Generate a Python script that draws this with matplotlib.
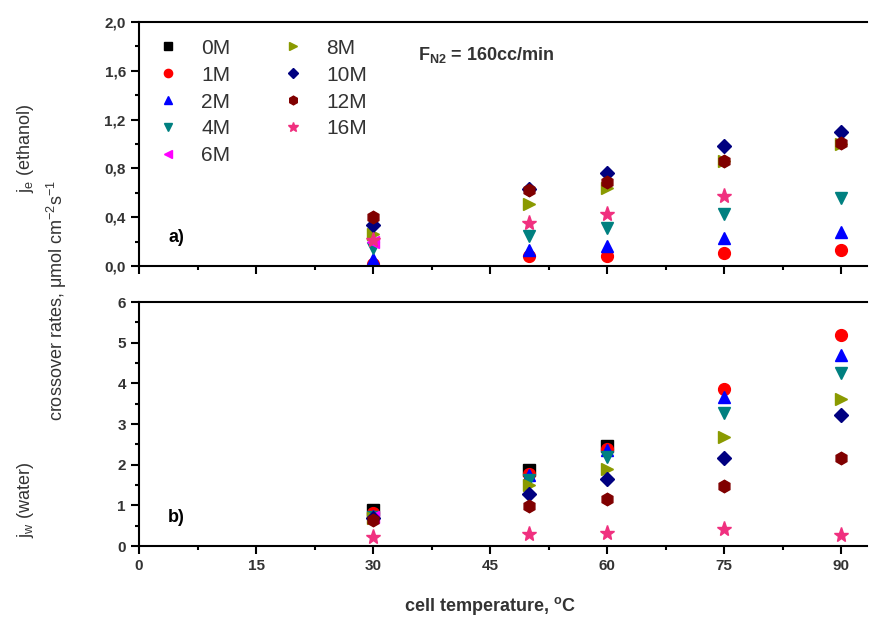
import numpy as np
import matplotlib
matplotlib.use("Agg")
import matplotlib.pyplot as plt
from matplotlib.ticker import MultipleLocator, FuncFormatter

plt.rcParams['font.family'] = ['Liberation Sans', 'DejaVu Sans']
plt.rcParams['font.weight'] = 'bold'

# 数据：温度与各浓度下的渗透通量
temps = [30, 50, 60, 75, 90]
labels = ['0M', '1M', '2M', '4M', '6M', '8M', '10M', '12M', '16M']
nan = np.nan

# 乙醇通量 (上图)
eth_0M = [nan, nan, nan, nan, nan]
eth_1M = [0.02, 0.08, 0.08, 0.11, 0.13]
eth_2M = [0.06, 0.13, 0.16, 0.23, 0.28]
eth_4M = [0.15, 0.25, 0.31, 0.43, 0.56]
eth_6M = [0.20, nan, nan, nan, nan]
eth_8M = [0.26, 0.51, 0.64, 0.86, 1.00]
eth_10M = [0.34, 0.63, 0.76, 0.98, 1.10]
eth_12M = [0.40, 0.62, 0.69, 0.86, 1.01]
eth_16M = [0.21, 0.355, 0.43, 0.57, nan]

# 水通量 (下图)
wat_0M = [0.89, 1.87, 2.47, nan, nan]
wat_1M = [0.80, 1.78, 2.38, 3.85, 5.18]
wat_2M = [0.75, 1.75, 2.35, 3.67, 4.70]
wat_4M = [0.72, 1.62, 2.20, 3.27, 4.25]
wat_6M = [0.72, nan, nan, nan, nan]
wat_8M = [0.70, 1.50, 1.90, 2.69, 3.62]
wat_10M = [0.68, 1.28, 1.65, 2.16, 3.22]
wat_12M = [0.64, 0.99, 1.15, 1.47, 2.17]
wat_16M = [0.22, 0.30, 0.33, 0.42, 0.27]

eth = [eth_0M, eth_1M, eth_2M, eth_4M, eth_6M, eth_8M, eth_10M, eth_12M, eth_16M]
wat = [wat_0M, wat_1M, wat_2M, wat_4M, wat_6M, wat_8M, wat_10M, wat_12M, wat_16M]

colors = ['black', '#ff0000', '#0000ff', '#008080', '#ff00ff', '#8a9a00',
          '#000080', '#800000', '#f0307f']
markers = ['s', 'o', '^', 'v', '<', '>', 'D', 'h', '*']
sizes = [8, 8.5, 9, 9, 9, 9, 7, 9, 11]

W, H = 869, 626
fig = plt.figure(figsize=(W / 100, H / 100), dpi=100)
left, right = 139 / W, 867 / W
ax1 = fig.add_axes([left, 1 - 266 / H, right - left, 244 / H])
ax2 = fig.add_axes([left, 1 - 546 / H, right - left, 244 / H])

comma = FuncFormatter(lambda v, p: f'{v:.1f}'.replace('.', ','))

for ax, data in ((ax1, eth), (ax2, wat)):
    for i in range(len(labels)):
        ax.plot(temps, data[i], linestyle='none', marker=markers[i],
                color=colors[i], markersize=sizes[i], label=labels[i])
    ax.set_xlim(0, 93.3)
    ax.xaxis.set_major_locator(MultipleLocator(15))
    ax.xaxis.set_minor_locator(MultipleLocator(7.5))
    ax.tick_params(which='both', direction='out', width=1.5, colors='black',
                   labelsize=11, labelcolor='#333333')
    ax.tick_params(which='major', length=6)
    ax.tick_params(which='minor', length=3)
    ax.spines['right'].set_visible(False)
    for s in ('top', 'bottom', 'left'):
        ax.spines[s].set_linewidth(1.5)

ax1.set_ylim(0, 2.0)
ax1.yaxis.set_major_locator(MultipleLocator(0.4))
ax1.yaxis.set_minor_locator(MultipleLocator(0.2))
ax1.yaxis.set_major_formatter(comma)
ax1.tick_params(axis='x', labelbottom=False)

ax2.set_ylim(0, 6)
ax2.yaxis.set_major_locator(MultipleLocator(1))
ax2.yaxis.set_minor_locator(MultipleLocator(0.5))

ax1.legend(ncol=2, loc='upper left', bbox_to_anchor=(0.0, 1.0), frameon=False,
           prop={'size': 15, 'weight': 'normal'}, handlelength=1.2,
           handletextpad=1.0, columnspacing=2.4, labelspacing=0.38,
           markerscale=0.7, borderaxespad=0.4, labelcolor='#333333')

ax1.text(418 / W, 1 - 55 / H, r'F$_{\mathregular{N2}}$ = 160cc/min', transform=fig.transFigure,
         fontsize=13, fontweight='bold', color='#333333', va='center')
ax1.text(0.04, 0.1, 'a)', transform=ax1.transAxes, fontsize=13, fontweight='bold')
ax2.text(0.04, 0.1, 'b)', transform=ax2.transAxes, fontsize=13, fontweight='bold')

fig.text(490 / W, 1 - 606 / H, 'cell temperature, $^{\\mathregular{o}}$C', ha='center',
         va='center', fontsize=13, fontweight='bold', color='#333333')
fig.text(25 / W, 1 - 148 / H, r'j$_{\mathregular{e}}$ (ethanol)', rotation=90,
         ha='center', va='center', fontsize=13, fontweight='normal', color='#333333')
fig.text(57 / W, 1 - 300 / H,
         r'crossover rates, μmol cm$^{\mathregular{-2}}$s$^{\mathregular{-1}}$',
         rotation=90, ha='center', va='center', fontsize=13, fontweight='normal',
         color='#333333')
fig.text(25 / W, 1 - 500 / H, r'j$_{\mathregular{w}}$ (water)', rotation=90,
         ha='center', va='center', fontsize=13, fontweight='normal', color='#333333')

fig.savefig('out.png', dpi=100)
